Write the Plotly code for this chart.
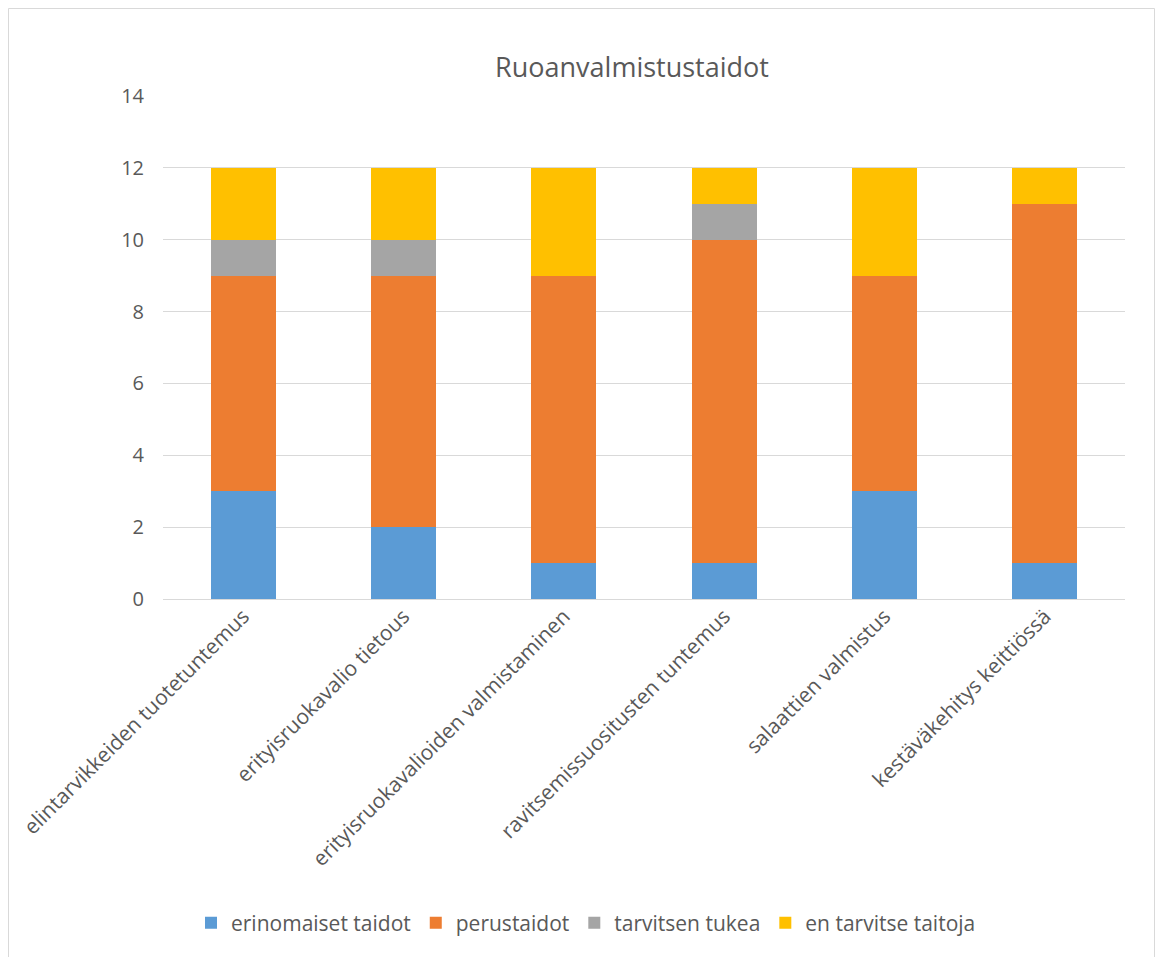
import plotly.graph_objects as go

categories = [
    "elintarvikkeiden tuotetuntemus",
    "erityisruokavalio tietous",
    "erityisruokavalioiden valmistaminen",
    "ravitsemissuositusten tuntemus",
    "salaattien valmistus",
    "kestäväkehitys keittiössä",
]
series_names = ["erinomaiset taidot", "perustaidot", "tarvitsen tukea", "en tarvitse taitoja"]
erinomaiset = [3, 2, 1, 1, 3, 1]
perustaidot = [6, 7, 8, 9, 6, 10]
tarvitsen_tukea = [1, 1, 0, 1, 0, 0]
en_tarvitse = [2, 2, 3, 1, 3, 1]
colors = ["#5B9BD5", "#ED7D31", "#A5A5A5", "#FFC000"]
y_ticks = [0, 2, 4, 6, 8, 10, 12, 14]

W, H = 1156, 957
L, R, T, B = 163, 31, 96, 358
pw, ph = W - L - R, H - T - B

fig = go.Figure()
for name, vals, c in zip(series_names, [erinomaiset, perustaidot, tarvitsen_tukea, en_tarvitse], colors):
    fig.add_trace(go.Bar(x=categories, y=vals, name=name, marker=dict(color=c, line=dict(width=0))))

font_family = "Open Sans, Liberation Sans, sans-serif"
txt = "#595959"

def px_x(px):
    return (px - L) / pw

def px_y(py):
    return (H - B - py) / ph

fig.update_layout(
    width=W, height=H,
    barmode="stack", bargap=0.595,
    margin=dict(l=L, r=R, t=T, b=B),
    paper_bgcolor="white", plot_bgcolor="white",
    font=dict(family=font_family, color=txt, size=20),
    title=dict(text="Ruoanvalmistustaidot", x=632 / W, xanchor="center", y=1 - 68 / H, yanchor="middle",
               font=dict(size=27, color=txt, family=font_family)),
    xaxis=dict(tickangle=-45, showgrid=False, showline=False, ticks="", tickfont=dict(size=21, color=txt)),
    yaxis=dict(range=[0, 14], tickvals=y_ticks, showgrid=True, gridcolor="#D9D9D9", gridwidth=1,
               zeroline=True, zerolinecolor="#D9D9D9", zerolinewidth=1,
               ticks="outside", ticklen=14, tickcolor="rgba(0,0,0,0)",
               tickfont=dict(size=20, color=txt)),
    legend=dict(orientation="h", x=px_x(586), xanchor="center", y=px_y(923), yanchor="middle",
                font=dict(size=21, color=txt), traceorder="normal"),
    shapes=[dict(type="rect", xref="paper", yref="paper",
                 x0=px_x(8.5), x1=px_x(1154.5), y0=px_y(990), y1=px_y(8.5),
                 line=dict(color="#D9D9D9", width=1), fillcolor="rgba(0,0,0,0)", layer="below")],
)

fig.write_html("out.html")
